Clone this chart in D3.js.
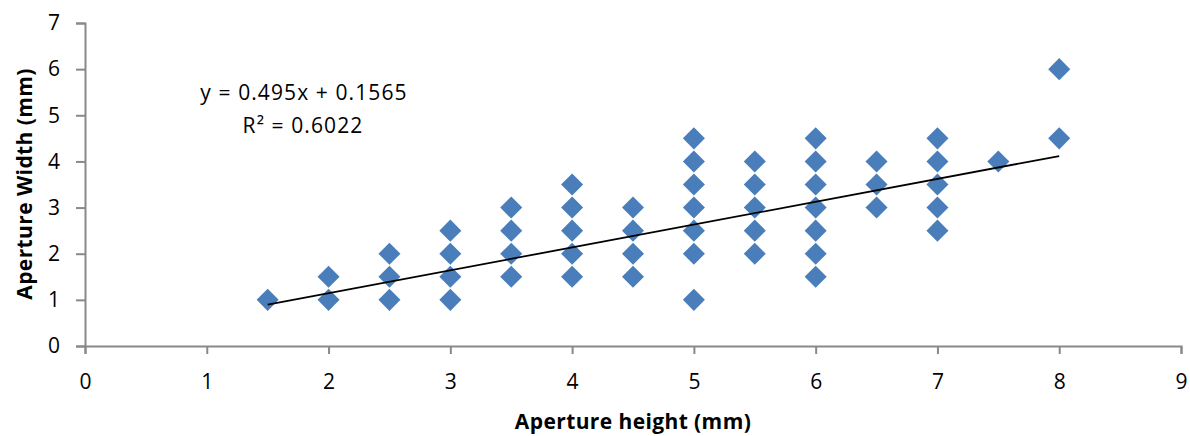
<!DOCTYPE html>
<html>
<head>
<meta charset="utf-8">
<script src="https://cdn.jsdelivr.net/npm/d3@7"></script>
<style>
  body { margin: 0; background: #fff; }
  svg text { font-family: "Open Sans", "Liberation Sans", sans-serif; fill: #000; }
</style>
</head>
<body>
<div id="chart"></div>
<script>
// Aperture height (x) / width (y) pairs, grouped by height
const heights = [1.5, 2, 2.5, 3, 3.5, 4, 4.5, 5, 5.5, 6, 6.5, 7, 7.5, 8];
const widthsByHeight = [
  [1],
  [1, 1.5],
  [1, 1.5, 2],
  [1, 1.5, 2, 2.5],
  [1.5, 2, 2.5, 3],
  [1.5, 2, 2.5, 3, 3.5],
  [1.5, 2, 2.5, 3],
  [1, 2, 2.5, 3, 3.5, 4, 4.5],
  [2, 2.5, 3, 3.5, 4],
  [1.5, 2, 2.5, 3, 3.5, 4, 4.5],
  [3, 3.5, 4],
  [2.5, 3, 3.5, 4, 4.5],
  [4],
  [4.5, 6]
];
const xTicks = [0, 1, 2, 3, 4, 5, 6, 7, 8, 9];
const yTicks = [0, 1, 2, 3, 4, 5, 6, 7];
const slope = 0.495, intercept = 0.1565, rSquared = 0.6022;

const width = 1190, height = 436;
const margin = {top: 23, right: 9, bottom: 90, left: 85};

// flatten to points
let points = [];
heights.forEach(function(h, i) {
  widthsByHeight[i].forEach(function(w) {
    points.push({x: h, y: w});
  });
});

let svg = d3.select("#chart")
  .append("svg")
  .attr("width", width)
  .attr("height", height);

let x = d3.scaleLinear()
  .domain([0, 9])
  .range([margin.left, width - margin.right]);

let y = d3.scaleLinear()
  .domain([0, 7])
  .range([height - margin.bottom, margin.top]);

// y axis
let yAxis = svg.append("g")
  .attr("transform", `translate(${margin.left}, 0)`)
  .call(d3.axisLeft(y).tickValues(yTicks).tickFormat(d3.format("d")).tickSize(9).tickPadding(16));
yAxis.selectAll("path, line").attr("stroke", "#898989").attr("stroke-width", 2);
yAxis.selectAll("text").style("font-size", "21px");

// x axis
let xAxis = svg.append("g")
  .attr("transform", `translate(0, ${height - margin.bottom})`)
  .call(d3.axisBottom(x).tickValues(xTicks).tickFormat(d3.format("d")).tickSize(8).tickPadding(20));
xAxis.selectAll("path, line").attr("stroke", "#898989").attr("stroke-width", 2);
xAxis.selectAll("text").style("font-size", "21px");

// markers
svg.append("g")
  .selectAll("path")
  .data(points)
  .enter()
  .append("path")
  .attr("d", d3.symbol().type(d3.symbolDiamond2).size(310))
  .attr("transform", function(d) { return `translate(${x(d.x)}, ${y(d.y)})`; })
  .attr("fill", "#4a7ebb");

// linear trend line over the data range
let xExtent = d3.extent(points, function(d) { return d.x; });
svg.append("path")
  .datum(xExtent)
  .attr("fill", "none")
  .attr("stroke", "#000")
  .attr("stroke-width", 1.8)
  .attr("d", d3.line()
    .x(function(d) { return x(d); })
    .y(function(d) { return y(slope * d + intercept); }));

// equation label
svg.append("text")
  .attr("x", 304)
  .attr("y", 100)
  .style("text-anchor", "middle")
  .style("font-size", "21px")
  .style("letter-spacing", "1.1px")
  .text(`y = ${slope}x + ${intercept}`);
svg.append("text")
  .attr("x", 303)
  .attr("y", 133)
  .style("text-anchor", "middle")
  .style("font-size", "21px")
  .style("letter-spacing", "1.1px")
  .text(`R² = ${rSquared}`);

// axis titles
svg.append("text")
  .attr("x", 633)
  .attr("y", 429)
  .style("text-anchor", "middle")
  .style("font-size", "21px")
  .style("font-weight", "bold")
  .style("letter-spacing", "0.4px")
  .text("Aperture height (mm)");

svg.append("text")
  .attr("transform", `translate(32, 184) rotate(-90)`)
  .style("text-anchor", "middle")
  .style("font-size", "21px")
  .style("font-weight", "bold")
  .style("letter-spacing", "0.4px")
  .text("Aperture Width (mm)");
</script>
</body>
</html>
